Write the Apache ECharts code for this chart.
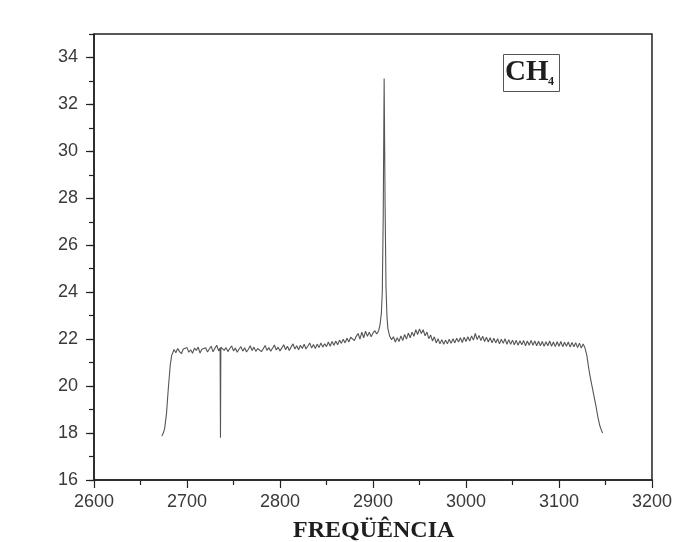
<!DOCTYPE html>
<html>
<head>
<meta charset="utf-8">
<script src="https://cdn.jsdelivr.net/npm/echarts@6/dist/echarts.min.js"></script>
<style>
  html, body { margin: 0; padding: 0; background: #fff; }
  #chart { width: 675px; height: 542px; }
</style>
</head>
<body>
<div id="chart"></div>
<script>
// Raman spectrum of CH4: [wavenumber, intensity] pairs, by region
const leftEdge = [
  [2673, 17.87], [2674.5, 18.0], [2676, 18.2], [2678, 18.85], [2680, 19.95],
  [2682, 20.9], [2683.5, 21.3], [2685, 21.45]
];
const baselineLow = [
  [2686, 21.56], [2688, 21.42], [2690, 21.60], [2692, 21.47], [2694, 21.38],
  [2696, 21.58], [2698, 21.50], [2700, 21.64], [2702, 21.44], [2704, 21.55],
  [2706, 21.40], [2708, 21.62], [2710, 21.52], [2712, 21.66], [2714, 21.41],
  [2716, 21.57], [2718, 21.49], [2720, 21.63], [2722, 21.45], [2724, 21.58],
  [2726, 21.70], [2728, 21.46], [2730, 21.61], [2732, 21.74], [2734, 21.50],
  [2735.6, 21.62], [2736, 17.8], [2736.4, 21.66],
  [2738, 21.72], [2740, 21.52], [2742, 21.64], [2744, 21.47], [2746, 21.60],
  [2748, 21.71], [2750, 21.50], [2752, 21.62], [2754, 21.44], [2756, 21.58],
  [2758, 21.68], [2760, 21.49], [2762, 21.63], [2764, 21.45], [2766, 21.57],
  [2768, 21.72], [2770, 21.52], [2772, 21.66], [2774, 21.48], [2776, 21.60],
  [2778, 21.68], [2780, 21.47], [2782, 21.59], [2784, 21.73], [2786, 21.52],
  [2788, 21.64], [2790, 21.49], [2792, 21.61], [2794, 21.75], [2796, 21.54],
  [2798, 21.66], [2800, 21.50], [2802, 21.63], [2804, 21.76], [2806, 21.55],
  [2808, 21.70], [2810, 21.52], [2812, 21.67], [2814, 21.80], [2816, 21.58],
  [2818, 21.72], [2820, 21.55], [2822, 21.74], [2824, 21.60], [2826, 21.78],
  [2828, 21.58], [2830, 21.71], [2832, 21.84], [2834, 21.62], [2836, 21.77],
  [2838, 21.60], [2840, 21.79], [2842, 21.64], [2844, 21.84], [2846, 21.66],
  [2848, 21.80], [2850, 21.68], [2852, 21.88], [2854, 21.70], [2856, 21.90],
  [2858, 21.74], [2860, 21.92], [2862, 21.76], [2864, 21.96], [2866, 21.82],
  [2868, 22.00], [2870, 21.84], [2872, 22.04], [2874, 21.88], [2876, 22.08],
  [2878, 22.16], [2880, 21.94], [2882, 22.12], [2884, 22.24], [2886, 22.00],
  [2888, 22.30], [2890, 22.06], [2892, 22.34], [2894, 22.12], [2896, 22.30],
  [2898, 22.10], [2900, 22.26], [2902, 22.36], [2904, 22.22]
];
const mainPeak = [
  [2906, 22.35], [2907.5, 22.6], [2909, 23.1], [2910, 24.0], [2911, 27.2],
  [2912, 33.1], [2913, 27.8], [2914, 24.2], [2915, 23.0], [2916, 22.45],
  [2918, 22.12], [2920, 21.98]
];
const baselineHigh = [
  [2922, 22.10], [2924, 21.88], [2926, 22.06], [2928, 21.90], [2930, 22.14],
  [2932, 21.94], [2934, 22.20], [2936, 22.00], [2938, 22.26], [2940, 22.06],
  [2942, 22.30], [2944, 22.12], [2946, 22.40], [2948, 22.20], [2950, 22.44],
  [2952, 22.24], [2954, 22.40], [2956, 22.14], [2958, 22.30], [2960, 22.02],
  [2962, 22.18], [2964, 21.92], [2966, 22.10], [2968, 21.84], [2970, 22.02],
  [2972, 21.80], [2974, 21.98], [2976, 21.78], [2978, 21.96], [2980, 21.80],
  [2982, 22.00], [2984, 21.82], [2986, 22.02], [2988, 21.84], [2990, 22.04],
  [2992, 21.88], [2994, 22.06], [2996, 21.86], [2998, 22.08], [3000, 21.90],
  [3002, 22.10], [3004, 21.92], [3006, 22.14], [3008, 21.96], [3010, 22.24],
  [3012, 21.98], [3014, 22.16], [3016, 21.94], [3018, 22.12], [3020, 21.90],
  [3022, 22.08], [3024, 21.88], [3026, 22.06], [3028, 21.84], [3030, 22.04],
  [3032, 21.84], [3034, 22.02], [3036, 21.80], [3038, 22.00], [3040, 21.82],
  [3042, 22.02], [3044, 21.78], [3046, 21.98], [3048, 21.78], [3050, 21.96],
  [3052, 21.76], [3054, 21.95], [3056, 21.74], [3058, 21.93], [3060, 21.76],
  [3062, 21.94], [3064, 21.72], [3066, 21.92], [3068, 21.74], [3070, 21.95],
  [3072, 21.74], [3074, 21.92], [3076, 21.72], [3078, 21.91], [3080, 21.72],
  [3082, 21.90], [3084, 21.70], [3086, 21.89], [3088, 21.72], [3090, 21.92],
  [3092, 21.70], [3094, 21.88], [3096, 21.68], [3098, 21.89], [3100, 21.70],
  [3102, 21.90], [3104, 21.68], [3106, 21.87], [3108, 21.70], [3110, 21.88],
  [3112, 21.66], [3114, 21.86], [3116, 21.68], [3118, 21.85], [3120, 21.64],
  [3122, 21.83], [3124, 21.62], [3126, 21.80], [3128, 21.62]
];
const rightEdge = [
  [3129, 21.55], [3130, 21.3], [3132, 20.75], [3134, 20.3], [3136, 19.9],
  [3138, 19.5], [3140, 19.1], [3142, 18.65], [3144, 18.3], [3146, 18.08],
  [3147, 18.0]
];

const xTitle = 'FREQÜÊNCIA';
const speciesLabel = 'CH';
const speciesSub = '4';

const spectrum = [].concat(leftEdge, baselineLow, mainPeak, baselineHigh, rightEdge);

const chart = echarts.init(document.getElementById('chart'), null, { renderer: 'canvas' });

const axisColor = '#222';
const labelFont = { color: '#3a3a3a', fontSize: 18, fontFamily: 'Liberation Sans, Arial, sans-serif' };

chart.setOption({
  backgroundColor: '#ffffff',
  animation: false,
  grid: {
    left: 94, right: 22, top: 34, bottom: 62,
    show: true, borderColor: axisColor, borderWidth: 1.5, backgroundColor: 'transparent'
  },
  xAxis: [{
    type: 'value', min: 2600, max: 3200, interval: 100,
    axisLine: { show: true, lineStyle: { color: axisColor, width: 1.5 } },
    axisTick: { show: true, inside: false, length: 8, lineStyle: { color: axisColor, width: 1.2 } },
    minorTick: { show: true, splitNumber: 2, length: 5, lineStyle: { color: axisColor, width: 1.2 } },
    splitLine: { show: false },
    axisLabel: Object.assign({ margin: 13, formatter: v => String(v) }, labelFont)
  }],
  yAxis: [{
    type: 'value', min: 16, max: 35, interval: 2,
    axisLine: { show: true, lineStyle: { color: axisColor, width: 1.5 } },
    axisTick: { show: true, inside: false, length: 8, lineStyle: { color: axisColor, width: 1.2 } },
    splitLine: { show: false },
    axisLabel: Object.assign({ margin: 16, showMaxLabel: false,
      formatter: v => (v % 2 === 0 ? String(v) : '') }, labelFont)
  }, {
    // minor ticks every unit along the left edge
    type: 'value', min: 16, max: 35, interval: 1, position: 'left',
    axisLine: { show: false },
    axisTick: { show: true, inside: false, length: 5, lineStyle: { color: axisColor, width: 1.2 } },
    splitLine: { show: false },
    axisLabel: { show: false }
  }],
  series: [{
    type: 'line',
    data: spectrum,
    xAxisIndex: 0, yAxisIndex: 0,
    showSymbol: false,
    smooth: false,
    lineStyle: { color: '#555', width: 1.1 },
    silent: true
  }],
  graphic: [
    {
      type: 'text', left: 293, top: 519,
      style: { text: xTitle, fill: '#1e1e1e', font: 'bold 24px "Liberation Serif", "Times New Roman", serif' }
    },
    {
      type: 'rect', left: 503, top: 54,
      shape: { width: 56, height: 37 },
      style: { fill: '#fff', stroke: '#555', lineWidth: 1 }
    },
    {
      type: 'text', left: 505, top: 58,
      style: { text: speciesLabel, fill: '#1e1e1e', font: 'bold 29px "Liberation Serif", "Times New Roman", serif' }
    },
    {
      type: 'text', left: 548, top: 76,
      style: { text: speciesSub, fill: '#1e1e1e', font: 'bold 12px "Liberation Serif", "Times New Roman", serif' }
    }
  ]
});
</script>
</body>
</html>
